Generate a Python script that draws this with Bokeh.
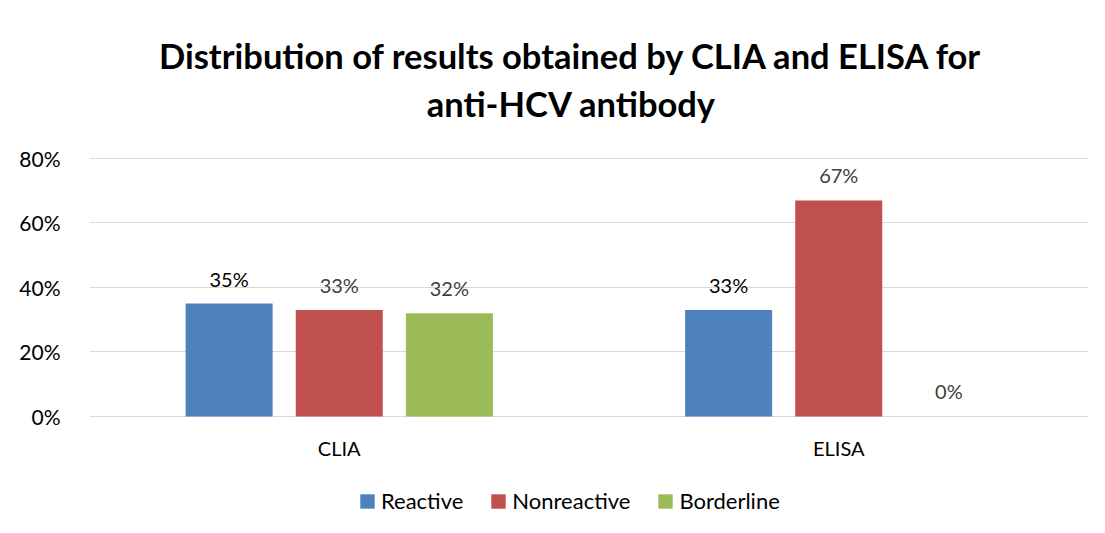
from bokeh.plotting import figure
from bokeh.models import (ColumnDataSource, FactorRange, Legend, LegendItem, LabelSet, Label,
                          NumeralTickFormatter, FixedTicker)
from bokeh.core.properties import value
from bokeh.transform import dodge
from bokeh.embed import file_html
from bokeh.resources import INLINE

categories = ["CLIA", "ELISA"]
series = ["Reactive", "Nonreactive", "Borderline"]
reactive = [0.35, 0.33]
nonreactive = [0.33, 0.67]
borderline = [0.32, 0.0]
colors = ["#4F81BD", "#C0504D", "#9BBB59"]
label_colors = ["#000000", "#404040", "#404040"]
y_ticks = [0.0, 0.2, 0.4, 0.6, 0.8]
title_line1 = "Distribution of results obtained by CLIA and ELISA for"
title_line2 = "anti-HCV antibody"

FONT = "Lato"
values = [reactive, nonreactive, borderline]
offsets = [-0.2205, 0.0, 0.2205]

# frame spans the whole height (title, labels and legend are drawn inside it)
p = figure(x_range=FactorRange(*categories), y_range=(-0.3628, 1.2899),
           width=1105, height=533, output_backend="svg", toolbar_location=None,
           min_border_left=89, min_border_right=17, min_border_top=0, min_border_bottom=0)
p.outline_line_color = None
p.background_fill_color = "white"
p.border_fill_color = "white"

# two-line centred title
for txt, ty in [(title_line1, 1.1194), (title_line2, 0.9705)]:
    p.add_layout(Label(x=0.965, y=ty, text=txt, text_align="center",
                       text_baseline="alphabetic", text_font=FONT,
                       text_font_size="34.5px", text_font_style="bold",
                       text_color="#000000"))

items = []
for name, vals, off, col, lcol in zip(series, values, offsets, colors, label_colors):
    src = ColumnDataSource(dict(cat=categories, val=vals,
                                txt=["{:.0f}%".format(v * 100) for v in vals]))
    r = p.vbar(x=dodge("cat", off, range=p.x_range), top="val", width=0.1742,
               source=src, fill_color=col, line_color=None)
    items.append(LegendItem(label=name, renderers=[r]))
    labels = LabelSet(x=dodge("cat", off, range=p.x_range), y="val", text="txt", source=src,
                      y_offset=25, text_align="center", text_baseline="middle",
                      text_font=value(FONT), text_font_size=value("20px"), text_color=lcol)
    p.add_layout(labels)

# category labels under the baseline
cat_src = ColumnDataSource(dict(cat=categories, y=[0.0] * len(categories)))
p.add_layout(LabelSet(x="cat", y="y", text="cat", source=cat_src, y_offset=-32,
                      text_align="center", text_baseline="middle",
                      text_font=value(FONT), text_font_size=value("20px"),
                      text_color="#000000"))

p.yaxis.ticker = FixedTicker(ticks=y_ticks)
p.yaxis.formatter = NumeralTickFormatter(format="0%")
p.yaxis.axis_line_color = None
p.yaxis.major_tick_line_color = None
p.yaxis.minor_tick_line_color = None
p.yaxis.major_label_standoff = 23
p.yaxis.major_label_text_font = FONT
p.yaxis.major_label_text_font_size = "21px"
p.yaxis.major_label_text_color = "#000000"

p.xaxis.visible = False
p.xgrid.grid_line_color = None
p.ygrid.ticker = FixedTicker(ticks=y_ticks)
p.ygrid.grid_line_color = "#D9D9D9"
p.ygrid.grid_line_width = 1

legend = Legend(items=items, orientation="horizontal", location=(269, 19),
                glyph_width=18, glyph_height=18, label_standoff=5, spacing=26,
                label_text_font=FONT, label_text_font_size="22px", label_text_color="#000000",
                border_line_color=None, background_fill_alpha=0, padding=0, margin=0)
p.add_layout(legend, "center")

open("out.html", "w").write(file_html(p, INLINE))
